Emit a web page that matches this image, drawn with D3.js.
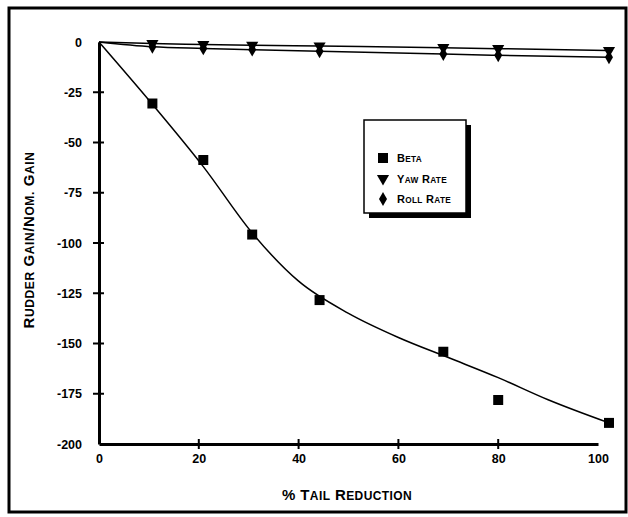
<!DOCTYPE html>
<html>
<head>
<meta charset="utf-8">
<script src="https://cdn.jsdelivr.net/npm/d3@7"></script>
<style>
  body { margin: 0; background: #fff; }
  svg { display: block; font-family: "Liberation Sans", Arial, sans-serif; }
</style>
</head>
<body>
<div id="chart"></div>
<script>
// measured points (% tail reduction)
const tailReduction = [10.7, 20.9, 30.7, 44.2, 69.0, 80.0, 102.2];
const beta = [-30.6, -58.7, -95.8, -128.4, -154.1, -178.1, -189.5];
const yawRate = [-0.8, -1.2, -1.6, -2.0, -2.8, -3.3, -4.2];
const rollRate = [-2.4, -3.2, -3.8, -4.6, -6.0, -6.6, -7.6];

// fitted curve drawn through the beta points
const betaFitX = [0, 10.7, 20.9, 30.7, 40, 50, 60, 70, 80, 90, 102.2];
const betaFitY = [0, -31, -62, -95, -119, -135, -147, -157, -167, -178, -189.5];

const xTicks = [0, 20, 40, 60, 80, 100];
const yTicks = [0, -25, -50, -75, -100, -125, -150, -175, -200];

const width = 628, height = 517;
const svg = d3.select("#chart").append("svg")
    .attr("width", width)
    .attr("height", height);

// small caps the way the original lettering looks: first letter of a word big, the rest smaller capitals
function smallCaps(sel, str, size, ratio) {
  str.split(/(\s+)/).forEach(word => {
    if (!word.length) return;
    if (/\s/.test(word)) {
      sel.append("tspan").attr("font-size", size).text(word);
      return;
    }
    // split on "/" too so that "Gain/Nom." gets a big N
    word.split(/(\/)/).forEach(part => {
      if (!part.length) return;
      sel.append("tspan").attr("font-size", size).text(part[0]);
      if (part.length > 1)
        sel.append("tspan").attr("font-size", size * ratio).text(part.slice(1).toUpperCase());
    });
  });
}

// outer frame
svg.append("rect")
    .attr("x", 9).attr("y", 8)
    .attr("width", 617).attr("height", 504)
    .attr("fill", "none")
    .attr("stroke", "#000")
    .attr("stroke-width", 3);

const x = d3.scaleLinear().domain([0, 100]).range([99, 598]);
const y = d3.scaleLinear().domain([-200, 0]).range([444, 42]);

// axes
const xAxis = svg.append("g").attr("transform", `translate(0,${y(-200)})`)
    .call(d3.axisBottom(x).tickValues(xTicks).tickSize(0).tickPadding(10).tickFormat(d => String(d)));
const yAxis = svg.append("g").attr("transform", `translate(${x(0)},0)`)
    .call(d3.axisLeft(y).tickValues(yTicks).tickSize(0).tickPadding(17).tickFormat(d => String(d)));

[xAxis, yAxis].forEach(g => {
  g.select(".domain").attr("stroke-width", 3);
  g.selectAll("text")
      .attr("font-size", 12.5)
      .attr("font-weight", "bold")
      .attr("font-family", "'Liberation Sans', Arial, sans-serif")
      .attr("fill", "#000");
});

// cross ticks
svg.append("g").selectAll("line")
  .data(xTicks.filter(d => d > 0 && d < 100))
  .join("line")
    .attr("x1", d => x(d)).attr("x2", d => x(d))
    .attr("y1", y(-200) - 5).attr("y2", y(-200) + 5)
    .attr("stroke", "#000").attr("stroke-width", 2);
svg.append("g").selectAll("line")
  .data(yTicks.filter(d => d > -200 && d < 0))
  .join("line")
    .attr("x1", x(0) - 6).attr("x2", x(0) + 5)
    .attr("y1", d => y(d)).attr("y2", d => y(d))
    .attr("stroke", "#000").attr("stroke-width", 2);

// axis titles
const xTitle = svg.append("text")
    .attr("x", 347).attr("y", 500)
    .attr("text-anchor", "middle")
    .attr("font-weight", "bold")
    .attr("letter-spacing", 0.4);
smallCaps(xTitle, "% Tail Reduction", 15, 0.8);

const yTitle = svg.append("text")
    .attr("transform", "translate(34,240) rotate(-90)")
    .attr("text-anchor", "middle")
    .attr("font-weight", "bold")
    .attr("letter-spacing", 0.6);
smallCaps(yTitle, "Rudder Gain/Nom. Gain", 15, 0.8);

// lines
const line = d3.line().x(d => x(d[0])).y(d => y(d[1])).curve(d3.curveMonotoneX);

svg.append("path")
    .datum(betaFitX.map((v, i) => [v, betaFitY[i]]))
    .attr("d", line)
    .attr("fill", "none").attr("stroke", "#000").attr("stroke-width", 1.5);

svg.append("path")
    .datum([[0, 0]].concat(tailReduction.map((v, i) => [v, yawRate[i]])))
    .attr("d", line)
    .attr("fill", "none").attr("stroke", "#000").attr("stroke-width", 1.5);

svg.append("path")
    .datum([[0, 0]].concat(tailReduction.map((v, i) => [v, rollRate[i]])))
    .attr("d", line)
    .attr("fill", "none").attr("stroke", "#000").attr("stroke-width", 1.5);

// markers
const sqr = d3.symbol().type(d3.symbolSquare).size(100);
const tri = d3.symbol().type(d3.symbolTriangle).size(64);
const dia = d3.symbol().type(d3.symbolDiamond).size(55);

svg.append("g").selectAll("path")
  .data(tailReduction)
  .join("path")
    .attr("transform", (d, i) => `translate(${x(d)},${y(beta[i])})`)
    .attr("d", sqr);

svg.append("g").selectAll("path")
  .data(tailReduction)
  .join("path")
    .attr("transform", (d, i) => `translate(${x(d)},${y(rollRate[i])})`)
    .attr("d", dia);

svg.append("g").selectAll("path")
  .data(tailReduction)
  .join("path")
    .attr("transform", (d, i) => `translate(${x(d)},${y(yawRate[i])}) rotate(180)`)
    .attr("d", tri);

// legend
const legend = svg.append("g").attr("transform", "translate(364,120)");
legend.append("rect")
    .attr("x", 5).attr("y", 5).attr("width", 102).attr("height", 93)
    .attr("fill", "#000");
legend.append("rect")
    .attr("width", 102).attr("height", 93)
    .attr("fill", "#fff").attr("stroke", "#000").attr("stroke-width", 1.5);

const items = [
  { name: "Beta", sym: sqr, rot: 0 },
  { name: "Yaw Rate", sym: tri, rot: 180 },
  { name: "Roll Rate", sym: dia, rot: 0 }
];
const item = legend.selectAll("g.item")
  .data(items)
  .join("g")
    .attr("class", "item")
    .attr("transform", (d, i) => `translate(19,${38 + i * 20.5})`);
item.append("path")
    .attr("d", d => d.sym())
    .attr("transform", d => `rotate(${d.rot})`);
item.each(function(d) {
  const t = d3.select(this).append("text")
      .attr("x", 14).attr("y", 4)
      .attr("font-weight", "bold")
      .attr("letter-spacing", 0.3);
  smallCaps(t, d.name, 11, 0.75);
});
</script>
</body>
</html>
